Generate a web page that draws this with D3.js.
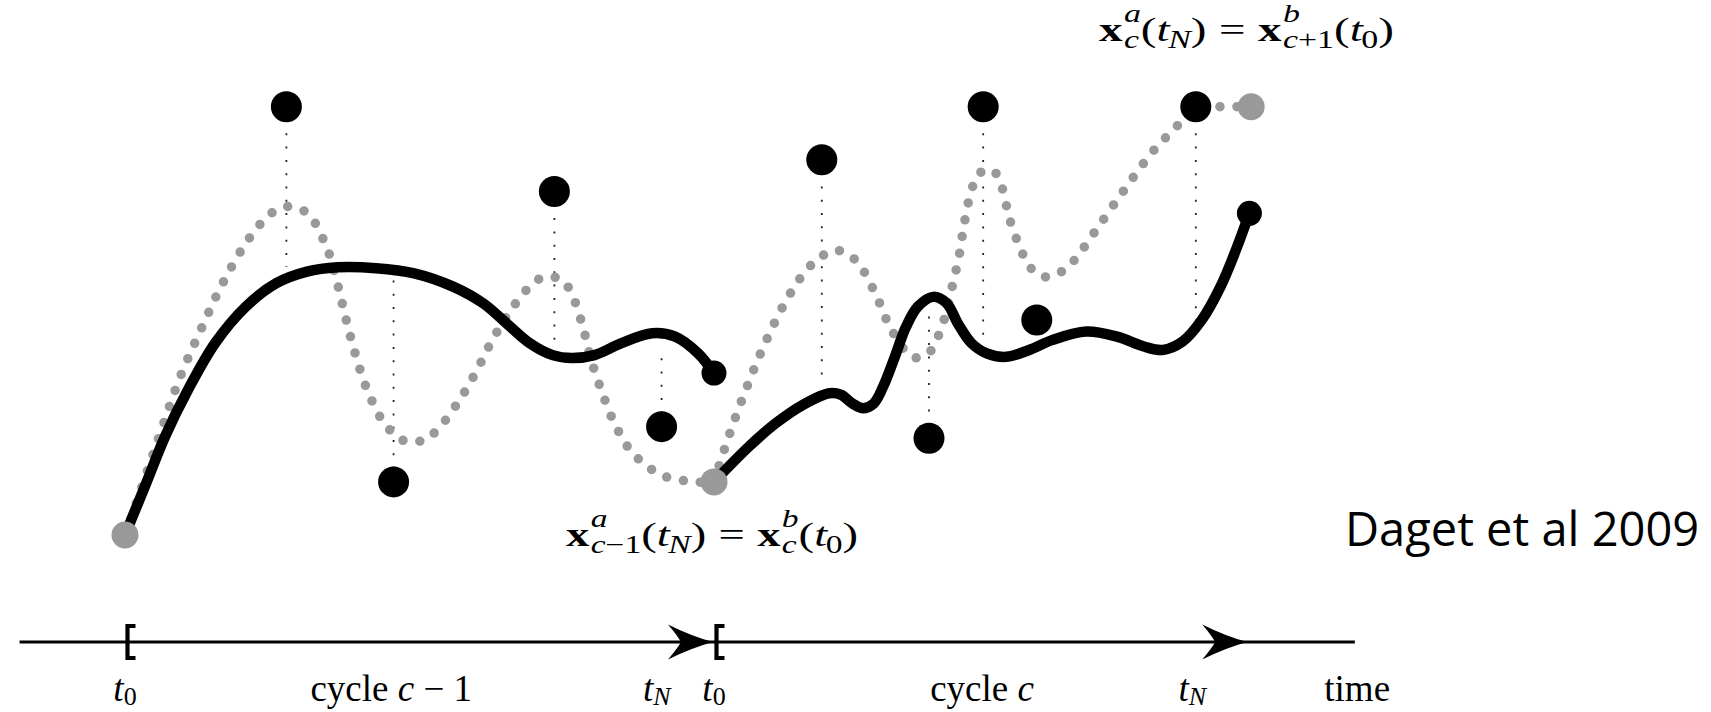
<!DOCTYPE html>
<html>
<head>
<meta charset="utf-8">
<script src="https://cdn.jsdelivr.net/npm/d3@7"></script>
<style>
  html, body { margin: 0; padding: 0; background: #fff; }
  svg { display: block; }
  text { font-family: 'Liberation Serif', serif; fill: #000; }
</style>
</head>
<body>
<div id="chart"></div>
<script>
const dimensions = {
  width: 1711,
  height: 712
}

// Data: time runs 0 -> 10 over cycle c-1, state is in arbitrary units (0 = start, 10 = top points)
const blackPrev = [[0, 0], [0.36, 1.21], [0.68, 2.30], [1.07, 3.39], [1.53, 4.48], [2.05, 5.33], [2.57, 5.88],
  [3.09, 6.15], [3.61, 6.25], [4.26, 6.23], [4.91, 6.11], [5.57, 5.80], [6.08, 5.41], [6.48, 4.94], [6.87, 4.48],
  [7.26, 4.20], [7.58, 4.13], [7.97, 4.20], [8.43, 4.48], [8.95, 4.71], [9.34, 4.63], [9.73, 4.24], [10, 3.78]];

const blackCur = [[10, 1.24], [10.59, 2.06], [11.05, 2.61], [11.51, 3.04], [11.96, 3.31], [12.16, 3.27], [12.35, 3.07],
  [12.53, 2.96], [12.71, 3.07], [12.87, 3.46], [13.07, 4.16], [13.26, 4.86], [13.46, 5.33], [13.72, 5.56],
  [13.95, 5.41], [14.14, 4.94], [14.37, 4.48], [14.63, 4.24], [14.96, 4.16], [15.35, 4.32], [15.74, 4.55],
  [16.32, 4.75], [16.84, 4.63], [17.30, 4.40], [17.62, 4.32], [17.95, 4.51], [18.28, 5.02], [18.60, 5.80],
  [18.86, 6.65], [19.09, 7.51]];

const grayPrev = [[0, 0], [0.16, 0.62], [0.55, 2.18], [0.94, 3.70], [1.30, 4.83], [1.66, 5.88], [2.11, 6.93],
  [2.50, 7.53], [2.77, 7.67], [3.06, 7.55], [3.24, 7.26], [3.37, 6.89], [3.48, 6.51], [3.63, 5.74], [3.77, 4.94],
  [3.92, 4.18], [4.10, 3.43], [4.36, 2.69], [4.56, 2.37], [4.78, 2.18], [5.08, 2.22], [5.30, 2.45], [5.66, 3.11],
  [5.96, 3.81], [6.22, 4.51], [6.53, 5.21], [6.90, 5.84], [7.13, 6.03], [7.42, 5.95], [7.58, 5.64], [7.77, 4.88],
  [7.91, 4.11], [8.10, 3.33], [8.32, 2.58], [8.62, 1.91], [9.11, 1.40], [9.67, 1.24], [10, 1.24]];

const grayCur = [[10, 1.24], [10.24, 2.26], [10.54, 3.39], [10.87, 4.49], [11.26, 5.56], [11.58, 6.20], [11.80, 6.48],
  [12.06, 6.65], [12.32, 6.51], [12.51, 6.23], [12.78, 5.51], [13.02, 4.77], [13.38, 4.15], [13.64, 4.24],
  [13.89, 4.96], [14.03, 5.72], [14.16, 6.51], [14.25, 7.28], [14.38, 8.09], [14.51, 8.45], [14.73, 8.52],
  [14.88, 8.15], [15.02, 7.37], [15.22, 6.63], [15.36, 6.26], [15.59, 6.03], [15.85, 6.11], [16.08, 6.36],
  [16.44, 7.03], [16.93, 7.99], [17.46, 8.97], [17.85, 9.53], [18.18, 10], [18.63, 10], [19.12, 10]];

const controlPoints = [[2.74, 10], [4.56, 1.24], [7.29, 8.02], [9.11, 2.53],
  [11.83, 8.76], [13.65, 2.26], [14.57, 10], [15.48, 5.02], [18.18, 10]];
// where each dotted projection line meets the black trajectory (null = no line)
const guideEnds = [6.26, 6.03, 4.48, 4.24, 3.50, 5.33, 4.48, null, 5.02];

const blackEnds = [[10, 3.78], [19.09, 7.51]];
const grayEnds = [[0, 0], [10, 1.24], [19.12, 10]];

const cycleStarts = [0, 10];
const cycleEnds = [10, 19.07];
const axisExtent = [-1.79, 20.88];
const timeTicks = [
  { t: 0, base: 't', sub: '0' },
  { t: 9.03, base: 't', sub: 'N' },
  { t: 10, base: 't', sub: '0' },
  { t: 18.12, base: 't', sub: 'N' }
];
const cycleLabels = [
  { t: 4.52, parts: ['cycle ', 'c', ' \u2212 1'] },
  { t: 14.55, parts: ['cycle ', 'c'] }
];
const axisTitle = { t: 20.92, text: 'time' };

const formulaTop = [
  { s: 'x', bold: true, sup: 'a', sub: 'c' }, { s: '(' }, { s: 't', italic: true, sub: 'N' }, { s: ')' },
  { s: '=', before: 9, after: 9 },
  { s: 'x', bold: true, sup: 'b', sub: 'c+1' }, { s: '(' }, { s: 't', italic: true, sub: '0' }, { s: ')' }
];
const formulaBottom = [
  { s: 'x', bold: true, sup: 'a', sub: 'c\u22121' }, { s: '(' }, { s: 't', italic: true, sub: 'N' }, { s: ')' },
  { s: '=', before: 9, after: 9 },
  { s: 'x', bold: true, sup: 'b', sub: 'c' }, { s: '(' }, { s: 't', italic: true, sub: '0' }, { s: ')' }
];
const credit = 'Daget et al 2009';

// Scales
const xScale = d3.scaleLinear()
  .domain([0, 10])
  .range([125, 714]);

const yScale = d3.scaleLinear()
  .domain([0, 10])
  .range([535, 106.7]);

const axisY = 642;
const labelY = 701;
const mathSize = 34;

const svg = d3.select('#chart')
  .append('svg')
  .attr('width', dimensions.width)
  .attr('height', dimensions.height);

const line = d3.line()
  .x(d => xScale(d[0]))
  .y(d => yScale(d[1]))
  .curve(d3.curveCatmullRom.alpha(0.5));

// Dotted projection lines
const controls = controlPoints.map((d, i) => ({ t: d[0], v: d[1], to: guideEnds[i] }));

svg.append('g')
  .selectAll('line')
  .data(controls.filter(d => d.to !== null))
  .join('line')
  .attr('x1', d => xScale(d.t))
  .attr('x2', d => xScale(d.t))
  .attr('y1', d => yScale(d.v))
  .attr('y2', d => yScale(d.to))
  .attr('stroke', '#222')
  .attr('stroke-width', 1.8)
  .attr('stroke-dasharray', '2 11.3');

// Gray dotted trajectory
svg.append('g')
  .selectAll('path')
  .data([grayPrev, grayCur])
  .join('path')
  .attr('d', line)
  .attr('fill', 'none')
  .attr('stroke', '#999')
  .attr('stroke-width', 9.5)
  .attr('stroke-linecap', 'round')
  .attr('stroke-dasharray', '0 17');

// Black trajectory
svg.append('g')
  .selectAll('path')
  .data([blackPrev, blackCur])
  .join('path')
  .attr('d', line)
  .attr('fill', 'none')
  .attr('stroke', '#000')
  .attr('stroke-width', 10.5)
  .attr('stroke-linecap', 'round');

svg.append('g')
  .selectAll('circle')
  .data(grayEnds)
  .join('circle')
  .attr('cx', d => xScale(d[0]))
  .attr('cy', d => yScale(d[1]))
  .attr('r', 13.5)
  .attr('fill', '#999');

svg.append('g')
  .selectAll('circle')
  .data(controls)
  .join('circle')
  .attr('cx', d => xScale(d.t))
  .attr('cy', d => yScale(d.v))
  .attr('r', 15.5)
  .attr('fill', '#000');

svg.append('g')
  .selectAll('circle')
  .data(blackEnds)
  .join('circle')
  .attr('cx', d => xScale(d[0]))
  .attr('cy', d => yScale(d[1]))
  .attr('r', 12.5)
  .attr('fill', '#000');

// Time axis
const axis = svg.append('g');

axis.append('line')
  .attr('x1', xScale(axisExtent[0]))
  .attr('x2', xScale(axisExtent[1]))
  .attr('y1', axisY)
  .attr('y2', axisY)
  .attr('stroke', '#000')
  .attr('stroke-width', 3.2);

axis.selectAll('path.bracket')
  .data(cycleStarts)
  .join('path')
  .classed('bracket', true)
  .attr('transform', d => `translate(${xScale(d) + 2.5}, ${axisY})`)
  .attr('d', 'M8,-16 H0 V16 H8')
  .attr('fill', 'none')
  .attr('stroke', '#000')
  .attr('stroke-width', 4.2);

axis.selectAll('path.arrow')
  .data(cycleEnds)
  .join('path')
  .classed('arrow', true)
  .attr('transform', d => `translate(${xScale(d) - 1}, ${axisY})`)
  .attr('d', 'M0,0 Q-22,-6 -45,-17.5 Q-36,-7 -32,0 Q-36,7 -45,17.5 Q-22,6 0,0 Z')
  .attr('fill', '#000');

const tickText = axis.selectAll('text.tick')
  .data(timeTicks)
  .join('text')
  .classed('tick', true)
  .attr('x', d => xScale(d.t))
  .attr('y', labelY)
  .attr('text-anchor', 'middle')
  .style('font-size', '37px');

tickText.append('tspan')
  .style('font-style', 'italic')
  .text(d => d.base);
tickText.append('tspan')
  .attr('dy', 4)
  .style('font-size', '26px')
  .style('font-style', d => /[A-Za-z]/.test(d.sub) ? 'italic' : 'normal')
  .text(d => d.sub);

axis.selectAll('text.cycle')
  .data(cycleLabels)
  .join('text')
  .classed('cycle', true)
  .attr('x', d => xScale(d.t))
  .attr('y', labelY)
  .attr('text-anchor', 'middle')
  .style('font-size', '37px')
  .selectAll('tspan')
  .data(d => d.parts)
  .join('tspan')
  .style('font-style', (d, i) => i === 1 ? 'italic' : 'normal')
  .text(d => d);

axis.append('text')
  .attr('x', xScale(axisTitle.t))
  .attr('y', labelY)
  .attr('text-anchor', 'middle')
  .style('font-size', '37px')
  .text(axisTitle.text);

// Formulas
const script = (g, str, x, y, size) => {
  const t = g.append('text')
    .attr('x', x)
    .attr('y', y)
    .style('font-size', size + 'px');
  [...str].forEach(ch => t.append('tspan')
    .style('font-style', /[A-Za-z]/.test(ch) ? 'italic' : 'normal')
    .text(ch));
  return t.node().getComputedTextLength();
}

const mathRow = (g, tokens, size) => {
  let cx = 0;
  tokens.forEach(tok => {
    cx += tok.before || 0;
    const base = g.append('text')
      .attr('x', cx)
      .attr('y', 0)
      .style('font-size', size + 'px')
      .style('font-weight', tok.bold ? 'bold' : 'normal')
      .style('font-style', tok.italic ? 'italic' : 'normal')
      .text(tok.s);
    const end = cx + base.node().getComputedTextLength();
    let right = end;
    const sx = end + 1;
    if (tok.sup) {
      right = Math.max(right, sx + script(g, tok.sup, sx, -size * 0.55, size * 0.72));
    }
    if (tok.sub) {
      const subX = tok.italic ? sx - 2 : sx;
      right = Math.max(right, subX + script(g, tok.sub, subX, size * 0.2, size * 0.72));
    }
    cx = right + (tok.after || 0);
  });
  return cx;
}

const drawFormula = (tokens, left, baseline, width) => {
  const g = svg.append('g');
  const w = mathRow(g, tokens, mathSize);
  g.attr('transform', `translate(${left}, ${baseline}) scale(${width / w}, 1)`);
}

drawFormula(formulaTop, 1099, 41, 295);
drawFormula(formulaBottom, 566, 546, 292);

svg.append('text')
  .attr('x', 1345)
  .attr('y', 546)
  .style('font-family', "'Open Sans', sans-serif")
  .style('font-size', '47px')
  .text(credit);
</script>
</body>
</html>
